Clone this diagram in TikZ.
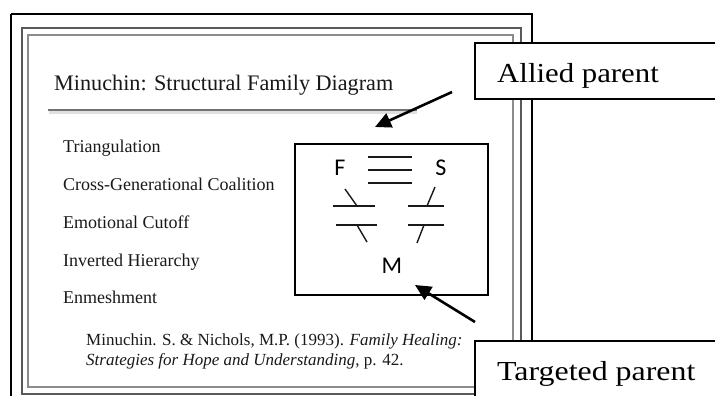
\documentclass[tikz,border=0pt]{standalone}
\usepackage{fontspec}
\setmainfont{Liberation Serif}
\newfontfamily\calib{Carlito}
\usetikzlibrary{arrows.meta}
\begin{document}
\begin{tikzpicture}[x=1pt,y=-1pt,
  listitem/.style={anchor=base west,inner sep=0pt,font=\fontsize{18}{20}\selectfont,text=black!90},
  citetext/.style={anchor=base west,inner sep=0pt,font=\fontsize{17}{19}\selectfont,text=black!90},
  letter/.style={anchor=base,inner sep=0pt,font=\calib\fontsize{24}{26}\selectfont},
  callout/.style={draw=black,line width=1.4pt,fill=white},
  calltext/.style={anchor=base west,inner sep=0pt,font=\fontsize{27.5}{30}\selectfont},
  pointer/.style={line width=2.6pt,-{Triangle[length=16pt,width=15pt]}},
  tie/.style={line width=1.4pt,black!90}]
\clip (0,0) rectangle (715,396);
\fill[white] (0,0) rectangle (715,396);
% frames
\draw[line width=1.6pt] (11,14) -- (532,14) -- (532,400);
\draw[line width=1.6pt] (11,14) -- (11,400);
\draw[line width=1.9pt,black!65] (22,28) rectangle (521,394);
\draw[line width=1.4pt,black!45] (28,35) rectangle (513,387);
% title
\node[anchor=base west,inner sep=0pt,font=\fontsize{22.2}{24}\selectfont,text=black!90] (title) at (54,90) {Minuchin: Structural Family Diagram};
\draw[line width=2.5pt,black!12] (49,112.5) -- (417,112.5);
\draw[line width=1.8pt,black!55] (48,110) -- (417,110);
% list
\node[listitem] (l1) at (63,152) {Triangulation};
\node[listitem] (l2) at (63,190) {Cross-Generational Coalition};
\node[listitem] (l3) at (63,228) {Emotional Cutoff};
\node[listitem] (l4) at (63,266) {Inverted Hierarchy};
\node[listitem] (l5) at (63,303) {Enmeshment};
% citation
\node[citetext] (cit1) at (86,345) {Minuchin. S. \& Nichols, M.P. (1993). \textit{Family Healing:}};
\node[citetext] (cit2) at (86,365) {\textit{Strategies for Hope and Understanding}, p. 42.};
% diagram box
\draw[line width=1.5pt] (295,144) rectangle (488,295);
\node[letter] (F) at (340,175) {F};
\node[letter] (S) at (441,175) {S};
\node[letter] (M) at (392,273) {M};
\draw[tie] (368,157) -- (412,157);
\draw[tie] (368,170) -- (412,170);
\draw[tie] (368,183) -- (412,183);
\draw[tie] (333,206) -- (375,206);
\draw[tie] (345,189) -- (357,206);
\draw[tie] (408,206) -- (444,206);
\draw[tie] (435,187) -- (427,206);
\draw[tie] (336,225) -- (377,225);
\draw[tie] (357,225) -- (367,242);
\draw[tie] (408,225) -- (444,225);
\draw[tie] (424,225) -- (417,243);
% callouts
\draw[callout] (475,43) rectangle (720,99);
\node[calltext] (allied) at (497,82) {\scalebox{1.12}[1]{Allied parent}};
\draw[callout] (475,341) rectangle (720,400);
\node[calltext] (targeted) at (497,380) {\scalebox{1.16}[1]{Targeted parent}};
% arrows
\coordinate (a1s) at (452,92);
\coordinate (a1e) at (375,127);
\coordinate (a2s) at (475,322);
\coordinate (a2e) at (415,285);
\draw[pointer] (a1s) -- (a1e);
\draw[pointer] (a2s) -- (a2e);
\end{tikzpicture}
\end{document}
